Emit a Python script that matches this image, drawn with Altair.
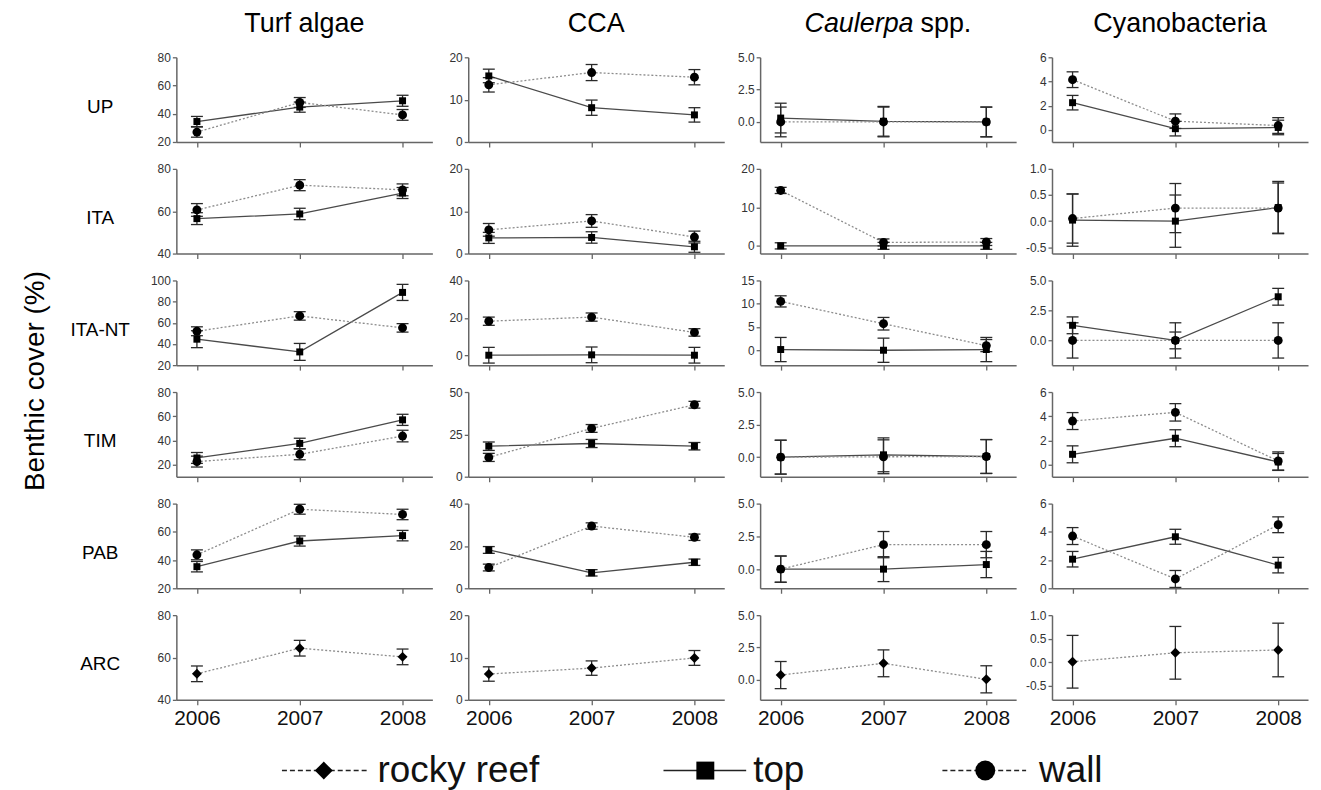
import altair as alt
import pandas as pd

YEARS = [2006, 2007, 2008]
SITES = ["UP", "ITA", "ITA-NT", "TIM", "PAB", "ARC"]
GROUPS = ["Turf algae", "CCA", "Caulerpa spp.", "Cyanobacteria"]
LEGEND_LABELS = ["rocky reef", "top", "wall"]

# values per site: one list per group (Turf, CCA, Caulerpa, Cyano), years 2006-2008
UP_TOP = [[34.5, 44.7, 49.2], [15.6, 8.1, 6.4], [0.3, 0.05, 0.0], [2.25, 0.1, 0.2]]
UP_TOP_SE = [[3.6, 3.6, 3.9], [1.6, 1.8, 1.7], [1.15, 1.15, 1.15], [0.6, 0.6, 0.6]]
UP_WALL = [[27.0, 48.0, 39.2], [13.5, 16.4, 15.3], [0.0, 0.0, 0.0], [4.15, 0.72, 0.36]]
UP_WALL_SE = [[3.6, 3.5, 3.8], [1.7, 1.9, 1.8], [1.15, 1.15, 1.15], [0.65, 0.6, 0.65]]

ITA_TOP = [[56.5, 58.7, 68.6], [3.7, 3.8, 1.6], [0.0, 0.0, 0.0], [0.02, 0.0, 0.26]]
ITA_TOP_SE = [[2.8, 2.7, 2.6], [1.3, 1.35, 1.3], [0.8, 0.9, 0.9], [0.5, 0.5, 0.5]]
ITA_WALL = [[60.6, 72.3, 70.1], [5.6, 7.7, 3.9], [14.4, 0.9, 1.0], [0.05, 0.25, 0.25]]
ITA_WALL_SE = [[3.0, 2.6, 2.8], [1.5, 1.5, 1.4], [0.8, 0.9, 0.9], [0.47, 0.47, 0.48]]

NT_TOP = [[44.5, 32.5, 88.7], [0.0, 0.2, 0.0], [0.15, 0.0, 0.15], [1.26, 0.0, 3.64]]
NT_TOP_SE = [[8.0, 8.0, 7.6], [4.2, 4.2, 4.2], [2.6, 2.6, 2.6], [0.7, 0.7, 0.7]]
NT_WALL = [[52.0, 66.5, 55.2], [18.2, 20.4, 12.2], [10.5, 5.7, 1.0], [0.0, 0.0, 0.0]]
NT_WALL_SE = [[4.2, 4.0, 4.0], [2.2, 2.2, 2.0], [1.2, 1.35, 1.3], [1.47, 1.47, 1.47]]

TIM_TOP = [[25.5, 37.5, 57.0], [18.0, 19.6, 18.0], [0.0, 0.18, 0.05], [0.85, 2.18, 0.22]]
TIM_TOP_SE = [[4.5, 4.3, 4.6], [2.5, 2.4, 2.2], [1.3, 1.3, 1.3], [0.7, 0.7, 0.7]]
TIM_WALL = [[22.5, 28.5, 43.6], [11.4, 28.5, 42.5], [0.0, 0.03, 0.05], [3.6, 4.32, 0.3]]
TIM_WALL_SE = [[4.5, 4.5, 4.8], [2.4, 2.3, 2.0], [1.3, 1.3, 1.3], [0.7, 0.72, 0.75]]

PAB_TOP = [[35.3, 53.5, 57.3], [18.1, 7.3, 12.3], [0.0, 0.0, 0.35], [2.06, 3.65, 1.64]]
PAB_TOP_SE = [[3.7, 3.6, 3.7], [1.6, 1.5, 1.5], [1.0, 0.95, 1.0], [0.55, 0.53, 0.55]]
PAB_WALL = [[43.7, 76.0, 72.3], [9.8, 29.4, 24.1], [0.0, 1.87, 1.87], [3.7, 0.66, 4.5]]
PAB_WALL_SE = [[3.5, 3.5, 3.7], [1.6, 1.5, 1.5], [1.0, 1.0, 1.0], [0.6, 0.6, 0.56]]

ARC_REEF = [[52.3, 64.4, 60.3], [6.1, 7.5, 9.9], [0.36, 1.27, 0.03], [0.01, 0.2, 0.26]]
ARC_REEF_SE = [[3.7, 3.7, 3.7], [1.7, 1.7, 1.75], [1.05, 1.04, 1.05], [0.56, 0.56, 0.57]]

SITE_SERIES = {
    "UP": [("top", UP_TOP, UP_TOP_SE), ("wall", UP_WALL, UP_WALL_SE)],
    "ITA": [("top", ITA_TOP, ITA_TOP_SE), ("wall", ITA_WALL, ITA_WALL_SE)],
    "ITA-NT": [("top", NT_TOP, NT_TOP_SE), ("wall", NT_WALL, NT_WALL_SE)],
    "TIM": [("top", TIM_TOP, TIM_TOP_SE), ("wall", TIM_WALL, TIM_WALL_SE)],
    "PAB": [("top", PAB_TOP, PAB_TOP_SE), ("wall", PAB_WALL, PAB_WALL_SE)],
    "ARC": [("rocky reef", ARC_REEF, ARC_REEF_SE)],
}

# axis settings per row (site) and column (group)
Y_DOMAIN = [
    [(20, 80), (0, 20), (-1.55, 5), (-1, 6)],
    [(40, 80), (0, 20), (-2, 20), (-0.62, 1)],
    [(20, 100), (-5.3, 40), (-3.2, 15), (-2.06, 5)],
    [(10, 80), (0, 50), (-1.5, 5), (-1, 6)],
    [(20, 80), (0, 40), (-1.46, 5), (0, 6)],
    [(40, 80), (0, 20), (-1.56, 5), (-0.8, 1)],
]
Y_TICKS = [
    [[20, 40, 60, 80], [0, 10, 20], [0, 2.5, 5], [0, 2, 4, 6]],
    [[40, 60, 80], [0, 10, 20], [0, 10, 20], [-0.5, 0, 0.5, 1]],
    [[20, 40, 60, 80, 100], [0, 20, 40], [0, 5, 10, 15], [0, 2.5, 5]],
    [[20, 40, 60, 80], [0, 25, 50], [0, 2.5, 5], [0, 2, 4, 6]],
    [[20, 40, 60, 80], [0, 20, 40], [0, 2.5, 5], [0, 2, 4, 6]],
    [[40, 60, 80], [0, 10, 20], [0, 2.5, 5], [-0.5, 0, 0.5, 1]],
]

STYLE = {
    "rocky reef": dict(shape="diamond", size=100, dash=[2, 2], color="#8c8c8c", lsize=324),
    "top": dict(shape="square", size=49, dash=None, color="#4a4a4a", lsize=324),
    "wall": dict(shape="circle", size=80, dash=[2, 2], color="#8c8c8c", lsize=400),
}

W, H = 257, 85
XDOM = [2005.8, 2008.29]
AX = "#666666"


def panel(r, c):
    site = SITES[r]
    dom = Y_DOMAIN[r][c]
    ticks = Y_TICKS[r][c]
    fmt = ".1f" if any(t != int(t) for t in ticks) else "d"
    bottom = r == len(SITES) - 1
    first = c == 0

    xaxis = alt.Axis(values=YEARS, format="d", labels=bottom, labelFontSize=21,
                     labelColor="#111111", labelPadding=3, tickSize=5,
                     domainColor=AX, tickColor=AX, domainWidth=1.5, tickWidth=1.3,
                     grid=False)
    ykw = dict(values=ticks,
               labelExpr=f"replace(format(datum.value, '{fmt}'), '\u2212', '-')",
               labelFontSize=12, labelColor="#333333", labelPadding=2, tickSize=4,
               domainColor=AX, tickColor=AX, domainWidth=1.5, tickWidth=1.3,
               grid=False, minExtent=26, maxExtent=26)
    if first:
        ykw.update(titleAngle=0, titleX=-77, titleY=49, titleAlign="center",
                   titleBaseline="middle", titleFontSize=19, titleFontWeight="normal",
                   titleColor="#000000")
    yaxis = alt.Axis(**ykw)
    ytitle = site if first else None
    xscale = alt.Scale(domain=XDOM, nice=False, zero=False)
    yscale = alt.Scale(domain=list(dom), nice=False, zero=False)

    def X():
        return alt.X("year:Q", scale=xscale, axis=xaxis, title=None)

    def Y(f):
        return alt.Y(f"{f}:Q", scale=yscale, axis=yaxis, title=ytitle)

    lines, bars, points = [], [], []
    for name, means, ses in SITE_SERIES[site]:
        m = means[c]
        s = ses[c]
        df = pd.DataFrame({"year": YEARS, "mean": m,
                           "lo": [a - b for a, b in zip(m, s)],
                           "hi": [a + b for a, b in zip(m, s)]})
        st = STYLE[name]
        base = alt.Chart(df)
        lk = dict(color=st["color"], strokeWidth=1.3)
        if st["dash"]:
            lk["strokeDash"] = st["dash"]
        lines.append(base.mark_line(**lk).encode(x=X(), y=Y("mean")))
        bars.append(base.mark_rule(color="#2a2a2a", strokeWidth=1.3).encode(
            x=X(), y=Y("lo"), y2=alt.Y2("hi:Q")))
        bars.append(base.mark_tick(orient="horizontal", size=12, thickness=1.3,
                                   color="#2a2a2a", opacity=1).encode(x=X(), y=Y("lo")))
        bars.append(base.mark_tick(orient="horizontal", size=12, thickness=1.3,
                                   color="#2a2a2a", opacity=1).encode(x=X(), y=Y("hi")))
        points.append(base.mark_point(shape=st["shape"], size=st["size"], filled=True,
                                      color="#000000", opacity=1).encode(x=X(), y=Y("mean")))

    extra = []
    if r == 0:
        if GROUPS[c] == "Caulerpa spp.":
            word, rest = GROUPS[c].split(" ", 1)
            extra.append(alt.Chart(pd.DataFrame({"t": [word]})).mark_text(
                fontSize=27, fontStyle="italic", align="right", baseline="middle",
                color="#000000").encode(x=alt.value(154), y=alt.value(-33), text="t:N"))
            extra.append(alt.Chart(pd.DataFrame({"t": [rest]})).mark_text(
                fontSize=27, align="left", baseline="middle",
                color="#000000").encode(x=alt.value(161), y=alt.value(-33), text="t:N"))
        else:
            extra.append(alt.Chart(pd.DataFrame({"t": [GROUPS[c]]})).mark_text(
                fontSize=27, align="center", baseline="middle",
                color="#000000").encode(x=alt.value(W / 2), y=alt.value(-33), text="t:N"))
    if r == 2 and c == 0:
        extra.append(alt.Chart(pd.DataFrame({"t": ["Benthic cover (%)"]})).mark_text(
            fontSize=28, angle=270, align="center", baseline="middle",
            color="#000000").encode(x=alt.value(-141), y=alt.value(101), text="t:N"))
    if bottom and c == 0:
        ly = 156
        items = [
            (LEGEND_LABELS[0], 106, 192, 148, 202),
            (LEGEND_LABELS[1], 489, 572, 531, 579),
            (LEGEND_LABELS[2], 769, 853, 812, 866),
        ]
        for name, x0, x1, xm, xt in items:
            st = STYLE[name]
            d = pd.DataFrame({"t": [name]})
            rk = dict(color="#222222", strokeWidth=1.6)
            if st["dash"]:
                rk["strokeDash"] = [5, 3]
            extra.append(alt.Chart(d).mark_rule(**rk).encode(
                x=alt.value(x0), x2=alt.value(x1), y=alt.value(ly)))
            extra.append(alt.Chart(d).mark_point(
                shape=st["shape"], size=st["lsize"],
                filled=True, color="#000000", opacity=1).encode(x=alt.value(xm), y=alt.value(ly)))
            extra.append(alt.Chart(d).mark_text(
                fontSize=37, align="left", baseline="middle", color="#111111").encode(
                x=alt.value(xt), y=alt.value(ly), text="t:N"))

    return alt.layer(*lines, *bars, *points, *extra).properties(width=W, height=H)


panels = [panel(r, c) for r in range(len(SITES)) for c in range(len(GROUPS))]

chart = alt.concat(*panels, columns=4, spacing={"row": 27, "column": 36},
                   bounds="flush").properties(
    padding={"left": 13, "top": 1, "right": 5, "bottom": 0}
).configure(font="Liberation Sans").configure_view(stroke=None)

chart.save("out.html", embed_options={"renderer": "svg", "actions": False})
